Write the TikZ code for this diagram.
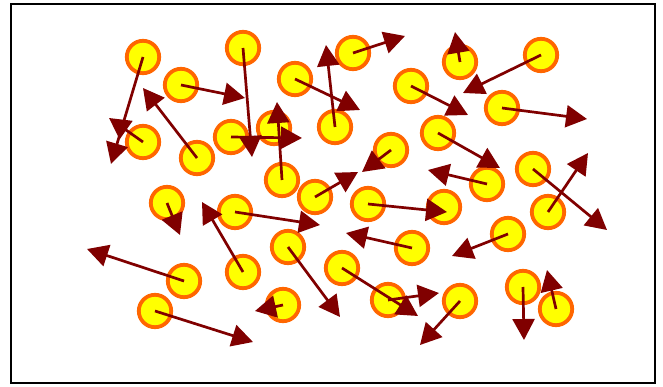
\documentclass[tikz,border=0pt]{standalone}
\usepackage{tikz}
\usetikzlibrary{arrows.meta}
\definecolor{moleyellow}{RGB}{255,255,0}
\definecolor{moleorange}{RGB}{255,102,0}
\definecolor{velred}{RGB}{128,0,0}
\begin{document}
\begin{tikzpicture}[x=1pt, y=-1pt,
  molecule/.style={circle, draw=moleorange, fill=moleyellow, line width=3.8pt, minimum size=32.4pt, inner sep=0pt},
  velocity/.style={-{Triangle[length=21pt, width=22pt]}, velred, line width=2.7pt}]

\useasboundingbox (0,0) rectangle (663,387);

% Box
\node[draw, line width=2pt, minimum width=644pt, minimum height=379pt, inner sep=0pt] (box) at (333,193.5) {};

% Molecules with velocity end points
\foreach \n/\x/\y/\u/\v in {
  1/143/57/111/164, 2/181/85/245/98, 3/143/142/109/118, 4/197/158/143/88,
  5/243/48/252/157, 6/231/137/302/138, 8/295/79/360/110, 9/335/127/326/45,
  10/353/53/405/36, 11/411/86/468/115, 12/391/150/362/172, 13/315/197/358/172,
  14/460/62/455/32, 15/541/55/463/93, 16/502/108/587/119, 17/438/133/500/168,
  18/487/184/428/170, 19/533/169/607/230, 20/548/212/588/153, 21/508/234/452/256,
  22/523/287/524/340, 23/556/309/547/270, 24/460/301/420/345, 26/412/248/346/233,
  27/342/268/418/316, 28/388/300/439/293, 29/288/247/340/317, 30/243/272/202/202,
  31/283/305/255/311, 32/235/212/320/225, 33/167/203/180/235, 34/184/281/87/249,
  35/155/311/253/342, 36/282/180/277/102, 37/368/204/447/212} {
  \node[molecule] (m\n) at (\x,\y) {};
  \coordinate (v\n) at (\u,\v);
}

% Molecules at rest
\node[molecule] (m7) at (274,128) {};
\node[molecule] (m25) at (444,207) {};

% Velocities
\foreach \n in {1,2,3,4,5,6,8,9,10,11,12,13,14,15,16,17,18,19,20,21,22,23,24,26,27,28,29,30,31,32,33,34,35,36,37} {
  \draw[velocity] (m\n.center) -- (v\n);
}

\end{tikzpicture}
\end{document}
